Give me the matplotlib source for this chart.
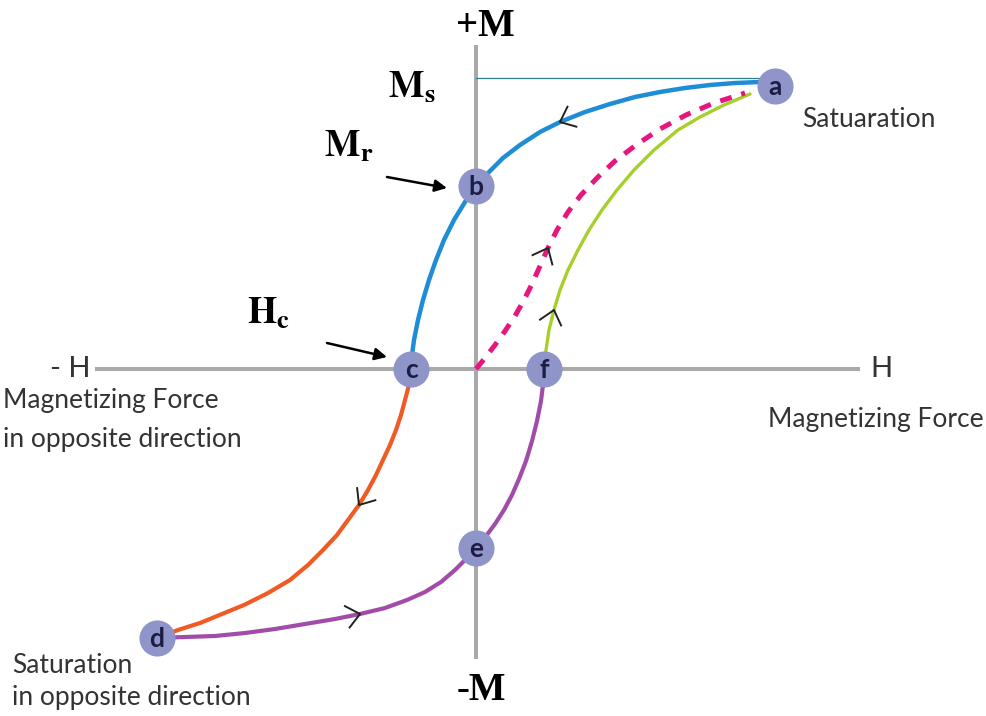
import numpy as np
import matplotlib
matplotlib.use('Agg')
import matplotlib.pyplot as plt

plt.rcParams['mathtext.fontset'] = 'stix'

# Hysteresis loop, H (magnetizing force) vs M (magnetization)
# key points of the loop
node_names = ['a', 'b', 'c', 'd', 'e', 'f']
node_H = [299, 0, -65, -319, 0, 68]
node_M = [283, 183, 0, -269, -179, 0]

# a -> b -> c  (removing the field from saturation)
blue_H = [284, 259, 234, 209, 184, 159, 134, 109, 84, 64, 44, 27, 13, 0, -11, -22, -32, -40, -47, -53, -58, -62, -64, -65]
blue_M = [287, 286, 284, 281, 277, 272, 265, 257, 247, 237, 224, 211, 197, 182, 167, 149, 129, 109, 89, 69, 49, 29, 14, 0]

# c -> d  (reverse field up to opposite saturation)
orange_H = [-65, -67, -71, -75, -80, -86, -93, -100, -108, -117, -128, -139, -153, -168, -186, -208, -232, -254, -276, -298, -311, -319]
orange_M = [0, -16, -31, -46, -61, -76, -91, -106, -121, -136, -151, -166, -181, -196, -211, -224, -236, -245, -254, -261, -266, -269]

# d -> e -> f
purple_H = [-319, -291, -261, -231, -201, -171, -141, -116, -91, -69, -51, -35, -21, -10, 0, 10, 19, 28, 36, 43, 50, 56, 61, 65, 67, 68]
purple_M = [-269, -268, -267, -264, -260, -255, -250, -245, -239, -231, -223, -213, -201, -190, -179, -167, -155, -141, -126, -110, -92, -72, -52, -32, -16, 0]

# f -> a
green_H = [68, 70, 73, 78, 84, 92, 102, 113, 126, 141, 158, 178, 202, 224, 248, 274]
green_M = [0, 19, 39, 59, 79, 99, 119, 139, 159, 179, 199, 219, 239, 252, 264, 275]

# initial magnetization curve, origin -> a
virgin_H = [0, 9, 19, 29, 39, 48, 56, 64, 72, 81, 92, 105, 121, 139, 160, 184, 210, 238, 269]
virgin_M = [0, 11, 24, 38, 53, 69, 85, 103, 121, 139, 157, 174, 191, 208, 224, 240, 254, 266, 276]

Ms = 291

fig = plt.figure(figsize=(9.87, 7.16), dpi=100)
ax = fig.add_axes([0, 0, 1, 1])
ax.set_xlim(-476, 511)
ax.set_ylim(-347, 369)
ax.axis('off')

# axes of the diagram
ax.plot([-379, 382], [0, 0], color='#a9a9a9', lw=2.9, zorder=1)
ax.plot([0, 0], [-288, 322], color='#a9a9a9', lw=2.9, zorder=1)
ax.plot([0, node_H[0]], [Ms, Ms], color='#2f7f8c', lw=0.9, zorder=1)

ax.plot(blue_H, blue_M, color='#1f8dd6', lw=3.2, solid_capstyle='round', zorder=2)
ax.plot(orange_H, orange_M, color='#f05a24', lw=3.0, solid_capstyle='round', zorder=2)
ax.plot(purple_H, purple_M, color='#a04ca8', lw=3.0, solid_capstyle='round', zorder=2)
ax.plot(green_H, green_M, color='#a6cf2a', lw=2.4, solid_capstyle='round', zorder=2)
ax.plot(virgin_H, virgin_M, color='#e5177f', lw=3.6, dashes=(2.4, 2.0), zorder=2)


def chevron(hs, ms, i, size=17, spread=40):
    # small open arrowhead on a curve, pointing along the direction of travel
    p = np.array([hs[i], ms[i]], dtype=float)
    d = np.array([hs[i + 1] - hs[i - 1], ms[i + 1] - ms[i - 1]], dtype=float)
    d /= np.hypot(*d)
    pts = []
    for ang in (spread, -spread):
        t = np.deg2rad(ang)
        r = np.array([d[0] * np.cos(t) - d[1] * np.sin(t), d[0] * np.sin(t) + d[1] * np.cos(t)])
        pts.append(p - size * r)
    ax.plot([pts[0][0], p[0], pts[1][0]], [pts[0][1], p[1], pts[1][1]],
            color='#222222', lw=1.4, zorder=3)


chevron(blue_H, blue_M, 8)
chevron(orange_H, orange_M, 9)
chevron(purple_H, purple_M, 7)
chevron(green_H, green_M, 3)
chevron(virgin_H, virgin_M, 8)

# labelled points
ax.plot(node_H, node_M, 'o', ms=26, color='#8f95c9', mec='none', zorder=4)
for name, h, m in zip(node_names, node_H, node_M):
    ax.text(h, m - 1, name, ha='center', va='center', fontsize=19, color='#1c1c45',
            family='Lato', fontweight='bold', zorder=5)

# pointers to Mr and Hc
arrow = dict(arrowstyle='-|>', color='black', lw=1.8, mutation_scale=18, shrinkA=0, shrinkB=0)
ax.annotate('', xy=(-29, 181), xytext=(-89, 192), arrowprops=arrow)
ax.annotate('', xy=(-89, 12), xytext=(-149, 26), arrowprops=arrow)

serif = dict(family='Liberation Serif', fontweight='bold', fontsize=28, color='black')
ax.text(9, 343, '+M', ha='center', va='center', **serif)
ax.text(5, -321, '-M', ha='center', va='center', **serif)
ax.text(-88, 272, r'$\mathbf{M_s}$', ha='left', va='baseline', fontsize=27)
ax.text(-152, 212, r'$\mathbf{M_r}$', ha='left', va='baseline', fontsize=27)
ax.text(-229, 46, r'$\mathbf{H_c}$', ha='left', va='baseline', fontsize=27)

sans = dict(family='Lato', color='#333333', fontsize=19)
ax.text(-386, 0, '- H', ha='right', va='center', family='Lato', color='#333333', fontsize=21)
ax.text(394, 0, 'H', ha='left', va='center', family='Lato', color='#333333', fontsize=21)
ax.text(292, -58, 'Magnetizing Force', ha='left', va='baseline', **sans)
ax.text(-473, -39, 'Magnetizing Force', ha='left', va='baseline', **sans)
ax.text(-473, -78, 'in opposite direction', ha='left', va='baseline', **sans)
ax.text(326, 242, 'Satuaration', ha='left', va='baseline', **sans)
ax.text(-464, -304, 'Saturation', ha='left', va='baseline', **sans)
ax.text(-464, -336, 'in opposite direction', ha='left', va='baseline', **sans)

fig.savefig('out.png', dpi=100)
